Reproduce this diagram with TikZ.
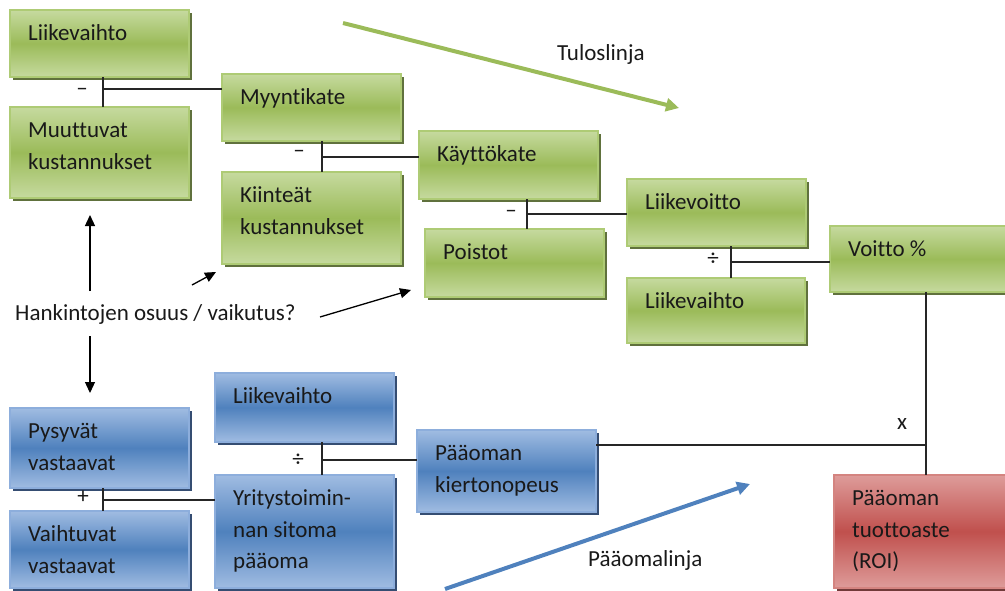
\documentclass[tikz,border=0pt]{standalone}
\usepackage{fontspec}
\setmainfont{Carlito}[Ligatures=NoCommon]
\usetikzlibrary{shadows,arrows.meta}
\definecolor{gmid}{HTML}{9BBB59}
\definecolor{glight}{HTML}{C6DA9F}
\definecolor{gedge}{HTML}{AECB75}
\definecolor{gshadow}{HTML}{4F6228}
\definecolor{bmid}{HTML}{4F81BD}
\definecolor{blight}{HTML}{A0BCE2}
\definecolor{bedge}{HTML}{8DAEDC}
\definecolor{bshadow}{HTML}{1F3A63}
\definecolor{rmid}{HTML}{C0504D}
\definecolor{rlight}{HTML}{DE9C9A}
\definecolor{redge}{HTML}{D48480}
\definecolor{rshadow}{HTML}{632523}
\tikzset{
  box/.style={anchor=north west, inner sep=0pt, outer sep=0pt, line width=1.2pt},
  gbox/.style={box, draw=gedge, top color=glight, bottom color=glight, middle color=gmid,
    drop shadow={shadow xshift=2.5pt, shadow yshift=-3pt, fill=gshadow, opacity=0.9}},
  bbox/.style={box, draw=bedge, top color=blight, bottom color=blight, middle color=bmid,
    drop shadow={shadow xshift=2.5pt, shadow yshift=-3pt, fill=bshadow, opacity=0.9}},
  rbox/.style={box, draw=redge, top color=rlight, bottom color=rlight, middle color=rmid,
    drop shadow={shadow xshift=2.5pt, shadow yshift=-3pt, fill=rshadow, opacity=0.9}},
  btext/.style={anchor=base west, inner sep=0pt, text=black!90, font=\fontsize{23}{31.5}\selectfont},
  plain/.style={inner sep=0pt, text=black!90, font=\fontsize{23}{31.5}\selectfont},
  conn/.style={line width=1.3pt, draw=black!85},
  blk/.style={line width=1.3pt, -{Triangle[length=11pt,width=10pt]}},
  greenarrow/.style={line width=4pt, draw=gmid, -{Triangle[length=13pt,width=13pt]}},
  bluearrow/.style={line width=4pt, draw=bmid, -{Triangle[length=13pt,width=13pt]}},
}
\newcommand\mybox[7]{%
  \node[#6, minimum width=#4pt, minimum height=#5pt] (#1) at (#2,#3) {};
  \node[btext] (#1-t) at ([shift={(18,30.5)}]#1.north west) {\begin{tabular}[t]{@{}l@{}}#7\end{tabular}};
}
\begin{document}
\begin{tikzpicture}[x=1pt,y=-1pt]
\useasboundingbox (0,0) rectangle (1005,590);
\clip (0,0) rectangle (1005,590);
% green boxes
\mybox{lva}{10}{10}{179}{67}{gbox}{Liikevaihto}
\mybox{muut}{10}{107}{179}{91}{gbox}{Muuttuvat\\kustannukset}
\mybox{myynti}{222}{74}{179}{67}{gbox}{Myyntikate}
\mybox{kiint}{222}{172}{179}{92}{gbox}{Kiinteät\\kustannukset}
\mybox{kayt}{419}{131}{179}{68}{gbox}{Käyttökate}
\mybox{poist}{425}{229}{179}{68}{gbox}{Poistot}
\mybox{lvoitto}{627}{179}{179}{67}{gbox}{Liikevoitto}
\mybox{lvb}{627}{278}{178}{65}{gbox}{Liikevaihto}
\mybox{voitto}{830}{226}{190}{66}{gbox}{Voitto \%}
% blue boxes
\mybox{pysy}{10}{408}{179}{80}{bbox}{Pysyvät\\vastaavat}
\mybox{vaiht}{10}{511}{179}{77}{bbox}{Vaihtuvat\\vastaavat}
\mybox{lvc}{215}{373}{179}{69}{bbox}{Liikevaihto}
\mybox{yrit}{215}{475}{179}{113}{bbox}{Yritystoimin-\\nan sitoma\\pääoma}
\mybox{kierto}{417}{430}{179}{82}{bbox}{Pääoman\\kiertonopeus}
% red box
\mybox{roi}{834}{475}{190}{113}{rbox}{Pääoman\\tuottoaste\\(ROI)}
% junctions
\coordinate (j1) at (103,89);
\coordinate (j2) at (322,157);
\coordinate (j3) at (527,214);
\coordinate (j4) at (731,262);
\coordinate (j6) at (103,500);
\coordinate (j7) at (322,460);
\coordinate (j8) at (926,445);
\draw[conn] (lva.south -| j1) -- (muut.north -| j1);
\draw[conn] (j1) -- (myynti.west |- j1);
\draw[conn] (myynti.south -| j2) -- (kiint.north -| j2);
\draw[conn] (j2) -- (kayt.west |- j2);
\draw[conn] (kayt.south -| j3) -- (poist.north -| j3);
\draw[conn] (j3) -- (lvoitto.west |- j3);
\draw[conn] (lvoitto.south -| j4) -- (lvb.north -| j4);
\draw[conn] (j4) -- (voitto.west |- j4);
\draw[conn] (voitto.south -| j8) -- (roi.north -| j8);
\draw[conn] (kierto.east |- j8) -- (j8);
\draw[conn] (pysy.south -| j6) -- (vaiht.north -| j6);
\draw[conn] (j6) -- (yrit.west |- j6);
\draw[conn] (lvc.south -| j7) -- (yrit.north -| j7);
\draw[conn] (j7) -- (kierto.west |- j7);
% operators
\node[plain] (op1) at (82,92) {–};
\node[plain] (op2) at (299,154) {–};
\node[plain] (op3) at (511,214) {–};
\node[plain] (op4) at (713,259) {÷};
\node[plain] (op6) at (83,497) {+};
\node[plain] (op7) at (298,460) {÷};
\node[plain] (op8) at (902,424) {x};
% texts
\node[btext] (hank) at (15,320) {Hankintojen osuus / vaikutus?};
\node[btext] (tulos) at (557,60) {Tuloslinja};
\node[btext] (paaoma) at (588,566) {Pääomalinja};
% black arrows
\coordinate (a1s) at (90,291); \coordinate (a1e) at (90,215);
\coordinate (a2s) at (90,336); \coordinate (a2e) at (90,393);
\coordinate (a3s) at (192,285); \coordinate (a3e) at (216,272);
\coordinate (a4s) at (320,317); \coordinate (a4e) at (411,290);
\draw[blk] (a1s) -- (a1e);
\draw[blk] (a2s) -- (a2e);
\draw[blk] (a3s) -- (a3e);
\draw[blk] (a4s) -- (a4e);
% line arrows
\coordinate (gs) at (343,23); \coordinate (ge) at (679,108);
\coordinate (bs) at (445,589); \coordinate (be) at (750,484);
\draw[greenarrow] (gs) -- (ge);
\draw[bluearrow] (bs) -- (be);
\end{tikzpicture}
\end{document}
